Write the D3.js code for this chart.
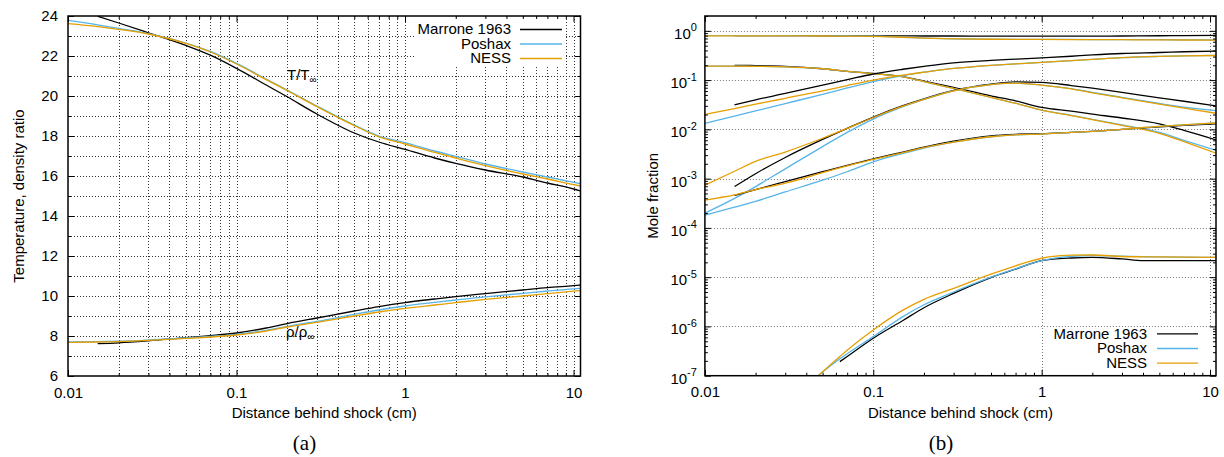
<!DOCTYPE html>
<html>
<head>
<meta charset="utf-8">
<script src="https://cdn.jsdelivr.net/npm/d3@7"></script>
<style>
  body { margin: 0; background: #fff; }
  svg { display: block; }
  text { font-family: "Liberation Sans", Arial, sans-serif; fill: #000; }
  text.caption { font-family: "Liberation Serif", "Times New Roman", serif; }
</style>
</head>
<body>
<svg id="fig" width="1224" height="457"></svg>
<script>
// ---------- (a) temperature and density ratio behind the shock ----------
const distA = [0.01, 0.015, 0.02, 0.03, 0.05, 0.07, 0.1, 0.15, 0.2, 0.3, 0.5, 0.7, 1, 1.5, 2, 3, 5, 7, 10, 11];
const tempMarrone = [null, 23.98, 23.65, 23.16, 22.53, 22.04, 21.38, 20.55, 19.96, 19.1, 18.15, 17.7, 17.33, 16.9, 16.63, 16.3, 15.95, 15.65, 15.35, 15.25];
const tempPoshax  = [23.78, 23.56, 23.38, 23.12, 22.65, 22.23, 21.63, 20.85, 20.3, 19.5, 18.55, 18.0, 17.67, 17.25, 16.98, 16.6, 16.2, 15.95, 15.68, 15.62];
const tempNess    = [23.62, 23.47, 23.33, 23.1, 22.63, 22.2, 21.6, 20.82, 20.27, 19.47, 18.52, 17.96, 17.6, 17.18, 16.9, 16.52, 16.1, 15.85, 15.57, 15.5];
const rhoMarrone  = [null, 7.62, 7.66, 7.76, 7.92, 8.02, 8.15, 8.4, 8.62, 8.9, 9.25, 9.47, 9.67, 9.85, 9.97, 10.12, 10.3, 10.42, 10.52, 10.55];
const rhoPoshax   = [7.7, 7.72, 7.74, 7.8, 7.9, 7.98, 8.08, 8.28, 8.48, 8.73, 9.08, 9.3, 9.5, 9.68, 9.8, 9.96, 10.13, 10.25, 10.36, 10.38];
const rhoNess     = [7.68, 7.7, 7.72, 7.78, 7.88, 7.95, 8.05, 8.25, 8.45, 8.68, 9.0, 9.2, 9.38, 9.55, 9.67, 9.83, 10.0, 10.12, 10.24, 10.27];
const ticksA = [6, 8, 10, 12, 14, 16, 18, 20, 22, 24];

// ---------- (b) species mole fractions ----------
const distB = [0.01, 0.015, 0.02, 0.03, 0.05, 0.07, 0.1, 0.15, 0.2, 0.3, 0.5, 0.7, 1, 1.5, 2, 3, 5, 7, 11];
const marroneN2 = [null, 0.80, 0.80, 0.80, 0.795, 0.79, 0.79, 0.79, 0.785, 0.785, 0.78, 0.78, 0.78, 0.78, 0.78, 0.785, 0.795, 0.80, 0.81];
const poshaxN2  = [0.80, 0.80, 0.80, 0.795, 0.79, 0.785, 0.78, 0.74, 0.71, 0.685, 0.675, 0.67, 0.67, 0.668, 0.666, 0.664, 0.66, 0.658, 0.655];
const nessN2    = [0.79, 0.79, 0.79, 0.79, 0.785, 0.78, 0.775, 0.74, 0.71, 0.685, 0.675, 0.67, 0.668, 0.665, 0.663, 0.66, 0.655, 0.652, 0.65];
const marroneO2 = [null, 0.1995, 0.197, 0.1905, 0.170, 0.151, 0.1365, 0.1175, 0.0955, 0.0708, 0.0479, 0.038, 0.0279, 0.0234, 0.0204, 0.017, 0.0129, 0.00955, 0.00603];
const poshaxO2  = [0.192, 0.1914, 0.1905, 0.186, 0.170, 0.151, 0.135, 0.116, 0.0933, 0.0676, 0.0447, 0.0339, 0.0245, 0.0193, 0.016, 0.0123, 0.0087, 0.006, 0.0037];
const nessO2    = [0.192, 0.1914, 0.1905, 0.186, 0.170, 0.151, 0.135, 0.116, 0.0933, 0.0676, 0.0447, 0.0339, 0.0245, 0.0191, 0.0158, 0.0120, 0.00832, 0.00562, 0.00324];
const marroneN  = [null, 0.0316, 0.0398, 0.0537, 0.0794, 0.102, 0.133, 0.166, 0.19, 0.224, 0.251, 0.266, 0.283, 0.305, 0.324, 0.347, 0.363, 0.376, 0.389];
const poshaxN   = [0.0132, 0.0186, 0.0237, 0.0334, 0.0513, 0.0692, 0.0933, 0.123, 0.1445, 0.1726, 0.1995, 0.214, 0.2286, 0.248, 0.263, 0.285, 0.302, 0.31, 0.318];
const nessN     = [0.0201, 0.0265, 0.0324, 0.0427, 0.0603, 0.0776, 0.1, 0.126, 0.1445, 0.1726, 0.1995, 0.214, 0.2286, 0.248, 0.263, 0.285, 0.302, 0.309, 0.316];
const marroneO  = [null, 6.9e-4, 1.26e-3, 2.69e-3, 6.24e-3, 0.01047, 0.0178, 0.0302, 0.0417, 0.0617, 0.0832, 0.0923, 0.0902, 0.0776, 0.0684, 0.0562, 0.0437, 0.0372, 0.0297];
const poshaxO   = [2.0e-4, 3.98e-4, 6.9e-4, 1.58e-3, 4.47e-3, 8.7e-3, 0.0162, 0.0288, 0.0407, 0.0607, 0.0813, 0.0871, 0.0794, 0.0668, 0.0562, 0.0447, 0.0335, 0.0282, 0.0238];
const nessO     = [7.4e-4, 1.41e-3, 2.24e-3, 3.47e-3, 6.6e-3, 0.01047, 0.0174, 0.0295, 0.0407, 0.0607, 0.0813, 0.0871, 0.0794, 0.0661, 0.055, 0.0437, 0.0324, 0.0269, 0.0211];
const marroneNO = [null, 4.57e-4, 6.0e-4, 8.7e-4, 1.38e-3, 1.86e-3, 2.51e-3, 3.47e-3, 4.37e-3, 5.75e-3, 7.41e-3, 7.94e-3, 8.13e-3, 8.7e-3, 9.1e-3, 0.01, 0.0112, 0.012, 0.013];
const poshaxNO  = [1.82e-4, 2.63e-4, 3.47e-4, 5.37e-4, 9.3e-4, 1.38e-3, 2.19e-3, 3.24e-3, 4.17e-3, 5.5e-3, 7.08e-3, 7.76e-3, 8.04e-3, 8.7e-3, 9.1e-3, 0.01, 0.0115, 0.0123, 0.0135];
const nessNO    = [3.68e-4, 4.68e-4, 6.0e-4, 8.1e-4, 1.32e-3, 1.82e-3, 2.45e-3, 3.39e-3, 4.27e-3, 5.5e-3, 7.08e-3, 7.76e-3, 8.04e-3, 8.7e-3, 9.1e-3, 0.01, 0.0115, 0.0123, 0.0135];

const distE     = [0.047, 0.0633, 0.07, 0.1, 0.15, 0.2, 0.3, 0.5, 0.7, 1, 1.5, 2, 3, 4, 5, 11];
const marroneE  = [null, 1.93e-7, 2.45e-7, 5.75e-7, 1.32e-6, 2.4e-6, 4.68e-6, 9.8e-6, 1.45e-5, 2.16e-5, 2.45e-5, 2.53e-5, 2.34e-5, 2.16e-5, 2.16e-5, 2.16e-5];
const poshaxE   = [1.0e-7, 2.2e-7, 2.8e-7, 6.2e-7, 1.58e-6, 2.75e-6, 5.0e-6, 1.0e-5, 1.48e-5, 2.16e-5, 2.63e-5, 2.75e-5, 2.66e-5, 2.6e-5, 2.57e-5, 2.51e-5];
const nessE     = [1.0e-7, 2.45e-7, 3.3e-7, 8.5e-7, 2.14e-6, 3.55e-6, 5.9e-6, 1.15e-5, 1.7e-5, 2.42e-5, 2.79e-5, 2.82e-5, 2.63e-5, 2.59e-5, 2.57e-5, 2.53e-5];
const expTicksB = [0, -1, -2, -3, -4, -5, -6, -7];

const modelNames = ["Marrone 1963", "Poshax", "NESS"];
const modelColors = ["#000000", "#56b4e9", "#e69f00"];
const xTickValues = [0.01, 0.1, 1, 10];
const xTickText = ["0.01", "0.1", "1", "10"];

const svg = d3.select("#fig");
const FONT = 15;

function pairs(xs, ys) { return xs.map((x, i) => [x, ys[i]]); }

function minorLogValues(lo, hi) {
  const out = [];
  for (let e = -3; e <= 2; e++) {
    for (let m = 1; m <= 9; m++) {
      const v = m * Math.pow(10, e);
      if (v > lo * 1.0001 && v < hi * 0.9999) out.push(+v.toPrecision(3));
    }
  }
  return out;
}

function drawPanel(cfg) {
  const { id, x, y, gridX, gridY, gridColor, majorY, minorY, minorX, series, yLabel, yTitleX, caption, captionX, yTickFmt } = cfg;
  const [x0, x1] = x.range();
  const [y0, y1] = [y.range()[1], y.range()[0]];
  const g = svg.append("g");

  g.append("clipPath").attr("id", "clip-" + id)
    .append("rect").attr("x", x0).attr("y", y0).attr("width", x1 - x0).attr("height", y1 - y0);

  // grid
  const grid = g.append("g").attr("stroke", gridColor).attr("stroke-width", 1).attr("stroke-dasharray", "1,2");
  grid.selectAll(".gx").data(gridX).join("line")
    .attr("x1", d => Math.round(x(d)) + 0.5).attr("x2", d => Math.round(x(d)) + 0.5)
    .attr("y1", y0).attr("y2", y1);
  grid.selectAll(".gy").data(gridY).join("line")
    .attr("y1", d => Math.round(y(d)) + 0.5).attr("y2", d => Math.round(y(d)) + 0.5)
    .attr("x1", x0).attr("x2", x1);

  // legend box erases the grid underneath it
  if (cfg.legend) {
    const L = cfg.legend;
    g.append("rect").attr("x", L.box[0]).attr("y", L.box[1]).attr("width", L.box[2]).attr("height", L.box[3]).attr("fill", "#fff");
  }

  // curves
  const line = d3.line()
    .defined(d => d[1] != null)
    .x(d => x(d[0])).y(d => y(d[1]))
    .curve(d3.curveMonotoneX);
  const curves = g.append("g").attr("clip-path", `url(#clip-${id})`).attr("fill", "none").attr("stroke-width", 1.3);
  series.forEach(s => {
    curves.append("path").attr("d", line(s.data)).attr("stroke", modelColors[s.model]);
  });

  // axes: ticks point inward on all four sides
  g.append("g").attr("transform", `translate(0,${y1})`)
    .call(d3.axisBottom(x).tickValues(xTickValues).tickSize(-6).tickPadding(11).tickFormat((d, i) => xTickText[i]));
  g.append("g").attr("transform", `translate(0,${y1})`).call(d3.axisBottom(x).tickValues(minorX).tickSize(-3).tickFormat(""));
  g.append("g").attr("transform", `translate(0,${y0})`).call(d3.axisTop(x).tickValues(xTickValues).tickSize(-6).tickFormat(""));
  g.append("g").attr("transform", `translate(0,${y0})`).call(d3.axisTop(x).tickValues(minorX).tickSize(-3).tickFormat(""));

  const axL = g.append("g").attr("transform", `translate(${x0},0)`)
    .call(d3.axisLeft(y).tickValues(majorY).tickSize(-6).tickPadding(cfg.yPad).tickFormat(yTickFmt || (d => d)));
  g.append("g").attr("transform", `translate(${x0},0)`).call(d3.axisLeft(y).tickValues(minorY).tickSize(-3).tickFormat(""));
  g.append("g").attr("transform", `translate(${x1},0)`).call(d3.axisRight(y).tickValues(majorY).tickSize(-6).tickFormat(""));
  g.append("g").attr("transform", `translate(${x1},0)`).call(d3.axisRight(y).tickValues(minorY).tickSize(-3).tickFormat(""));

  g.selectAll(".domain").remove();
  g.selectAll(".tick line").attr("stroke", "#000").attr("stroke-width", 1);
  g.selectAll(".tick text").attr("font-size", FONT).attr("fill", "#000");

  if (cfg.superscriptY) {
    axL.selectAll(".tick text").each(function (d) {
      const t = d3.select(this);
      const e = Math.round(Math.log10(d));
      t.text(null).attr("dy", "0.5em");
      t.append("tspan").text("10");
      t.append("tspan").attr("font-size", 11).attr("dy", -7.6).text(String(e));
    });
  }

  // frame
  g.append("rect").attr("x", x0).attr("y", y0).attr("width", x1 - x0).attr("height", y1 - y0)
    .attr("fill", "none").attr("stroke", "#000").attr("stroke-width", 1.5);

  // legend entries
  if (cfg.legend) {
    const L = cfg.legend;
    modelNames.forEach((name, i) => {
      const ry = L.rows[i];
      g.append("text").attr("x", L.textX).attr("y", ry).attr("dy", "0.35em")
        .attr("text-anchor", "end").attr("font-size", FONT).text(name);
      g.append("line").attr("x1", L.lineX[0]).attr("x2", L.lineX[1]).attr("y1", ry + 0.5).attr("y2", ry + 0.5)
        .attr("stroke", modelColors[i]).attr("stroke-width", 1.3);
    });
  }

  // titles
  g.append("text").attr("x", (x0 + x1) / 2).attr("y", 418).attr("text-anchor", "middle").attr("font-size", FONT)
    .text("Distance behind shock (cm)");
  g.append("text").attr("transform", `translate(${yTitleX},${(y0 + y1) / 2}) rotate(-90)`)
    .attr("text-anchor", "middle").attr("dy", "0.35em").attr("font-size", FONT).text(yLabel);
  g.append("text").attr("class", "caption").attr("x", captionX).attr("y", 450).attr("text-anchor", "middle")
    .attr("font-size", 21).text(caption);
  return g;
}

// ---------- panel (a) ----------
const xA = d3.scaleLog().domain([0.01, 11]).range([68, 580.5]);
const yA = d3.scaleLinear().domain([6, 24]).range([376, 16]);
const minorA = minorLogValues(0.01, 11).filter(v => !xTickValues.includes(v));
const gA = drawPanel({
  id: "a", x: xA, y: yA,
  gridX: minorLogValues(0.01, 11), gridY: d3.range(7, 24), gridColor: "#333",
  majorY: ticksA, minorY: d3.range(7, 24, 2), minorX: minorA, yPad: 10,
  series: [
    { model: 0, data: pairs(distA, tempMarrone) },
    { model: 1, data: pairs(distA, tempPoshax) },
    { model: 2, data: pairs(distA, tempNess) },
    { model: 0, data: pairs(distA, rhoMarrone) },
    { model: 1, data: pairs(distA, rhoPoshax) },
    { model: 2, data: pairs(distA, rhoNess) }
  ],
  yLabel: "Temperature, density ratio", yTitleX: 18.5,
  caption: "(a)", captionX: 304.5,
  legend: { box: [414, 17, 152, 50], rows: [29, 43.5, 58], textX: 511, lineX: [520, 562] }
});

// curve annotations
const annT = gA.append("text").attr("x", 287).attr("y", 80).attr("font-size", FONT);
annT.append("tspan").text("T/T");
annT.append("tspan").attr("font-size", 10).attr("dy", 3).text("\u221e");
const annR = gA.append("text").attr("x", 286).attr("y", 337).attr("font-size", FONT);
annR.append("tspan").text("\u03c1/\u03c1");
annR.append("tspan").attr("font-size", 10).attr("dy", 3).text("\u221e");

// ---------- panel (b) ----------
const xB = d3.scaleLog().domain([0.01, 10.85]).range([704.9, 1216]);
const yB = d3.scaleLog().domain([1e-7, 2]).range([375.7, 16]);
const majorYB = expTicksB.map(e => Math.pow(10, e));
const minorYB = [];
expTicksB.forEach(e => { for (let m = 2; m <= 9; m++) { const v = m * Math.pow(10, e); if (v <= 2) minorYB.push(v); } });
drawPanel({
  id: "b", x: xB, y: yB,
  gridX: [0.1, 1, 10], gridY: majorYB.filter(v => v > 1e-7), gridColor: "#777",
  majorY: majorYB, minorY: minorYB, minorX: minorLogValues(0.01, 10.85).filter(v => !xTickValues.includes(v)), yPad: 8,
  superscriptY: true,
  series: [
    { model: 0, data: pairs(distB, marroneN2) }, { model: 1, data: pairs(distB, poshaxN2) }, { model: 2, data: pairs(distB, nessN2) },
    { model: 0, data: pairs(distB, marroneO2) }, { model: 1, data: pairs(distB, poshaxO2) }, { model: 2, data: pairs(distB, nessO2) },
    { model: 0, data: pairs(distB, marroneN) },  { model: 1, data: pairs(distB, poshaxN) },  { model: 2, data: pairs(distB, nessN) },
    { model: 0, data: pairs(distB, marroneO) },  { model: 1, data: pairs(distB, poshaxO) },  { model: 2, data: pairs(distB, nessO) },
    { model: 0, data: pairs(distB, marroneNO) }, { model: 1, data: pairs(distB, poshaxNO) }, { model: 2, data: pairs(distB, nessNO) },
    { model: 0, data: pairs(distE, marroneE) },  { model: 1, data: pairs(distE, poshaxE) },  { model: 2, data: pairs(distE, nessE) }
  ],
  yLabel: "Mole fraction", yTitleX: 653,
  caption: "(b)", captionX: 941,
  legend: { box: [1043, 327, 172, 48], rows: [333.3, 348, 362.7], textX: 1147, lineX: [1157, 1198] }
});
</script>
</body>
</html>
